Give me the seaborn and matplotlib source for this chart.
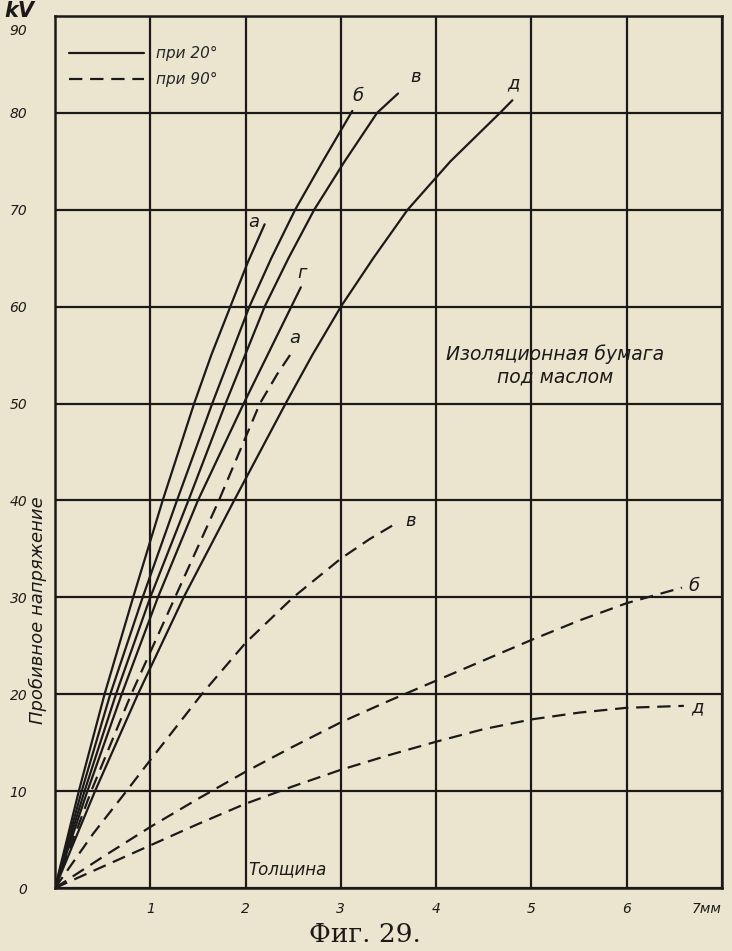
import matplotlib
matplotlib.use('Agg')
import matplotlib.pyplot as plt
import matplotlib.transforms as mtransforms
import seaborn as sns
from matplotlib.lines import Line2D

# breakdown voltage (kV) vs thickness (mm)
# solid curves, 20 deg
a20_x = [0, 0.25, 0.52, 0.82, 1.13, 1.46, 1.64, 1.84, 2.02, 2.20]
a20_y = [0, 10, 20, 30, 40, 50, 55, 60, 64.5, 68.5]
b20_x = [0, 0.28, 0.58, 0.92, 1.28, 1.65, 2.04, 2.27, 2.52, 2.81, 3.12]
b20_y = [0, 10, 20, 30, 40, 50, 60, 65, 70, 75, 80.2]
v20_x = [0, 0.31, 0.64, 1.00, 1.40, 1.79, 2.20, 2.45, 2.72, 3.04, 3.38, 3.60]
v20_y = [0, 10, 20, 30, 40, 50, 60, 65, 70, 75, 80, 82]
g20_x = [0, 0.34, 0.70, 1.08, 1.50, 1.98, 2.23, 2.48, 2.58]
g20_y = [0, 10, 20, 30, 40, 50, 55, 60, 62]
d20_x = [0, 0.42, 0.87, 1.35, 1.88, 2.42, 2.70, 3.00, 3.34, 3.70, 4.15, 4.67, 4.80]
d20_y = [0, 10, 20, 30, 40, 50, 55, 60, 65, 70, 75, 80, 81.3]

# dashed curves, 90 deg
a90_x = [0, 0.38, 0.80, 1.26, 1.72, 2.15, 2.33, 2.50]
a90_y = [0, 10, 20, 30, 40, 50, 53, 55.5]
b90_x = [0, 0.5, 1, 1.5, 2, 2.5, 3, 3.5, 4, 4.5, 5, 5.5, 6, 6.58]
b90_y = [0, 3.2, 6.3, 9.2, 12.0, 14.6, 17.1, 19.3, 21.4, 23.5, 25.6, 27.6, 29.4, 31.0]
v90_x = [0, 0.4, 0.75, 1.0, 1.54, 2.0, 2.5, 3.0, 3.3, 3.59]
v90_y = [0, 5.6, 10, 13.2, 20, 25.3, 30, 34.0, 36.0, 37.7]
d90_x = [0, 0.5, 1, 1.5, 2, 2.5, 3, 3.5, 4, 4.5, 5, 5.5, 6, 6.6]
d90_y = [0, 2.2, 4.4, 6.6, 8.7, 10.5, 12.2, 13.7, 15.1, 16.4, 17.4, 18.1, 18.6, 18.8]

x_ticks = [1, 2, 3, 4, 5, 6, 7]
x_ticklabels = ['1', '2', '3', '4', '5', '6', '7мм']
y_ticks = [0, 10, 20, 30, 40, 50, 60, 70, 80, 90]

paper = '#ebe5d0'
ink = '#1c1a18'
dash = (0, (6, 3.5))

sns.set_style('white')
plt.rcParams['font.family'] = ['DejaVu Sans']

fig = plt.figure(figsize=(7.32, 9.51), dpi=100, facecolor=paper)
ax = fig.add_axes([55/732, 1-888/951, 667/732, 872/951])
ax.set_facecolor(paper)

solid = [(a20_x, a20_y, 'а', (-8, 2)), (b20_x, b20_y, 'б', (4, 11)),
         (v20_x, v20_y, 'в', (13, 12)), (g20_x, g20_y, 'г', (1, 10)),
         (d20_x, d20_y, 'д', (1, 12))]
dashed = [(a90_x, a90_y, 'а', (1, 9)), (b90_x, b90_y, 'б', (9, 1)),
          (v90_x, v90_y, 'в', (10, 1)), (d90_x, d90_y, 'д', (10, -1))]

for xs, ys, lab, off in solid:
    sns.lineplot(x=xs, y=ys, ax=ax, color=ink, lw=1.6, sort=False)
    ax.annotate(lab, (xs[-1], ys[-1]), xytext=off, textcoords='offset points',
                ha='center', va='center', fontsize=13, style='italic', color=ink)

for xs, ys, lab, off in dashed:
    sns.lineplot(x=xs, y=ys, ax=ax, color=ink, lw=1.6, sort=False, linestyle=dash)
    ax.annotate(lab, (xs[-1], ys[-1]), xytext=off, textcoords='offset points',
                ha='center', va='center', fontsize=13, style='italic', color=ink)

ax.set_xlim(0, 7)
ax.set_ylim(0, 90)
ax.set_xticks(x_ticks)
ax.set_xticklabels(x_ticklabels)
ax.set_yticks(y_ticks)
ax.grid(True, color=ink, lw=1.6)
ax.set_axisbelow(True)
for s in ax.spines.values():
    s.set_color(ink)
    s.set_linewidth(1.8)
ax.tick_params(axis='x', length=0, pad=10, labelsize=10, colors=ink)
ax.tick_params(axis='y', length=0, pad=20, labelsize=10, colors=ink)
for t in ax.get_xticklabels() + ax.get_yticklabels():
    t.set_style('italic')
ax.get_xticklabels()[-1].set_horizontalalignment('right')
top_lab = ax.get_yticklabels()[-1]
top_lab.set_transform(top_lab.get_transform() +
                      mtransforms.ScaledTranslation(0, -0.14, fig.dpi_scale_trans))

# legend
handles = [Line2D([], [], color=ink, lw=1.6),
           Line2D([], [], color=ink, lw=1.6, linestyle=dash)]
ax.legend(handles, ['при 20°', 'при 90°'], loc='upper left',
          bbox_to_anchor=(0.0, 0.981), frameon=False, handlelength=4.9,
          handletextpad=0.8, labelspacing=0.7, prop={'style': 'italic', 'size': 11})

ax.text(2.03, 1.9, 'Толщина', style='italic', fontsize=12, color=ink,
        ha='left', va='center')
ax.text(5.25, 53.9, 'Изоляционная бумага\nпод маслом', style='italic',
        fontsize=13.5, color=ink, ha='center', va='center', linespacing=1.25)
ax.text(-0.18, 28.7, 'Пробивное напряжение', rotation=90, style='italic',
        fontsize=13, color=ink, ha='center', va='center')

fig.text(19/732, 1-11/951, 'kV', style='italic', weight='bold', fontsize=15,
         color=ink, ha='center', va='center')
fig.text(365/732, 1-935/951, 'Фиг. 29.', family='DejaVu Serif', fontsize=19,
         color=ink, ha='center', va='center')

fig.savefig('out.png', dpi=100, facecolor=paper)
